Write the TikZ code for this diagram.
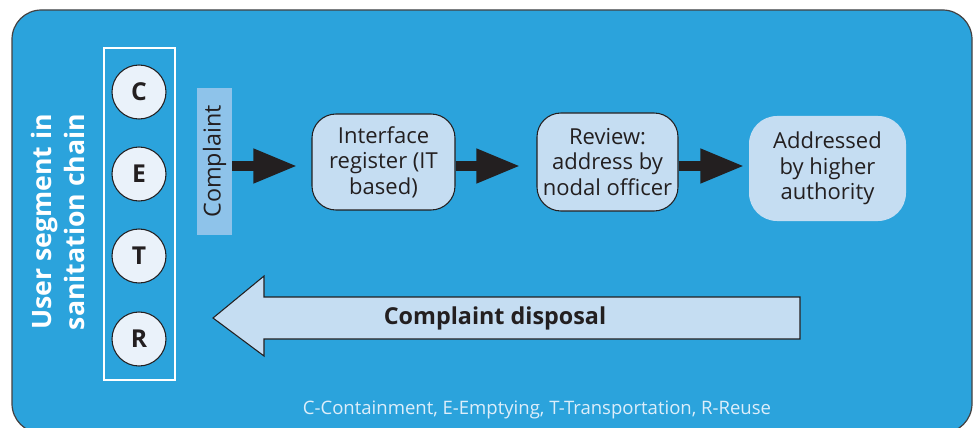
\documentclass[tikz,border=0pt]{standalone}
\usepackage{fontspec}
\setmainfont{Open Sans}
\usetikzlibrary{arrows.meta,calc}
\definecolor{bgblue}{HTML}{2BA3DC}
\definecolor{boxfill}{HTML}{C5DDF2}
\definecolor{circfill}{HTML}{EAF2FA}
\definecolor{compfill}{HTML}{8EC3EA}
\definecolor{darktext}{HTML}{231F20}
\definecolor{foot}{HTML}{DDEEFA}
\tikzset{
  letter/.style={circle,draw=darktext,line width=0.8pt,fill=circfill,minimum size=40.5pt,inner sep=0pt,
    font=\fontsize{18.5}{20}\selectfont\bfseries,text=darktext},
  stepbox/.style={rounded corners=18pt,draw=darktext,line width=0.8pt,fill=boxfill,align=center,inner sep=0pt,
    font=\fontsize{16.5}{19}\selectfont,text=darktext},
  flow/.style={-{Triangle[length=33pt,width=24pt]},line width=7.5pt,draw=darktext},
}
\begin{document}
\begin{tikzpicture}[x=0.75pt,y=-0.75pt]
\useasboundingbox (0,0) rectangle (976,428);
% outer panel
\draw[fill=bgblue,draw=darktext!85,line width=0.9pt,rounded corners=22pt] (12,10) rectangle (972,433);
% title
\node[rotate=90,align=center,text=white,font=\fontsize{20}{25}\selectfont\bfseries] (title) at (58,222)
  {User segment in\\sanitation chain};
% white frame
\draw[white,line width=0.8pt] (104,48) rectangle (175,380);
\node[letter] (C) at (139,92) {C};
\node[letter] (E) at (139,174) {E};
\node[letter] (T) at (139,256) {T};
\node[letter] (R) at (139,339) {R};
% complaint label
\node[rotate=90,fill=compfill,minimum width=110.25pt,minimum height=26.25pt,inner sep=0pt,
  font=\fontsize{17.5}{18}\selectfont,text=darktext] (comp) at (214.5,161.5) {Complaint};
% boxes
\node[stepbox,minimum width=107.25pt,minimum height=72pt] (b1) at (383.5,162)
  {Interface\\register (IT\\based)};
\node[stepbox,minimum width=105.75pt,minimum height=73.5pt] (b2) at (607.5,162)
  {Review:\\address by\\nodal officer};
\node[stepbox,draw=none,rounded corners=21pt,minimum width=117.75pt,minimum height=78.75pt] (b3) at (827.5,168.5)
  {Addressed\\by higher\\authority};
% flow arrows
\draw[flow] (comp.south |- 0,166) -- ($(b1.west |- 0,166)+(-14,0)$);
\draw[flow] (b1.east |- 0,166) -- ($(b2.west |- 0,166)+(-16,0)$);
\draw[flow] (b2.east |- 0,166) -- ($(b3.west |- 0,166)+(-4,0)$);
% disposal arrow
\draw[fill=boxfill,draw=darktext,line width=0.8pt] (213,318) -- (264,276) -- (264,297) -- (800,297) -- (800,339)
  -- (264,339) -- (264,356) -- cycle;
\node[font=\fontsize{17.5}{18}\selectfont\bfseries,text=darktext] (disp) at (495,318) {Complaint disposal};
% footnote
\node[font=\fontsize{13.9}{16}\selectfont,text=foot] (note) at (537,410)
  {C-Containment, E-Emptying, T-Transportation, R-Reuse};
\end{tikzpicture}
\end{document}
